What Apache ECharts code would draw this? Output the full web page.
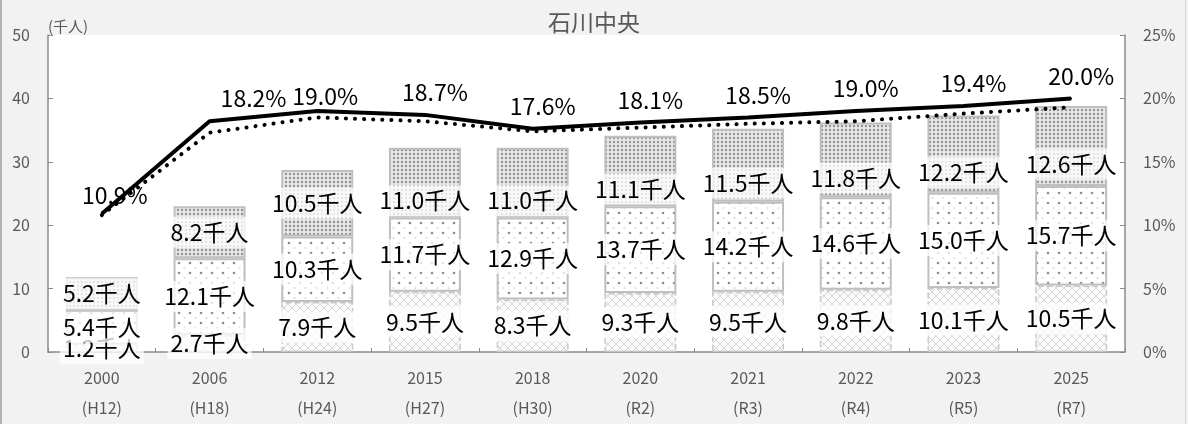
<!DOCTYPE html>
<html>
<head>
<meta charset="utf-8">
<script src="https://cdn.jsdelivr.net/npm/echarts@6/dist/echarts.min.js"></script>
<style>
html, body { margin: 0; padding: 0; background: #f2f2f2; }
#wrap { position: relative; width: 1188px; height: 424px; }
#mychart { width: 1188px; height: 424px; }
#wrap:before { content: ''; position: absolute; left: 0; top: 0; width: 2px; height: 424px; background: #b4b4b4; z-index: 2; }
#wrap:after { content: ''; position: absolute; right: 2px; top: 0; width: 1px; height: 424px; background: #d6d6d6; z-index: 2; }
</style>
</head>
<body>
<div id="wrap"><div id="mychart"></div></div>
<script>
// 年（西暦）と和暦
const years = ['2000', '2006', '2012', '2015', '2018', '2020', '2021', '2022', '2023', '2025'];
const eras = ['(H12)', '(H18)', '(H24)', '(H27)', '(H30)', '(R2)', '(R3)', '(R4)', '(R5)', '(R7)'];

// 積み上げ棒（千人）下段・中段・上段
const lowerVals = [1.2, 2.7, 7.9, 9.5, 8.3, 9.3, 9.5, 9.8, 10.1, 10.5];
const middleVals = [5.4, 12.1, 10.3, 11.7, 12.9, 13.7, 14.2, 14.6, 15.0, 15.7];
const upperVals = [5.2, 8.2, 10.5, 11.0, 11.0, 11.1, 11.5, 11.8, 12.2, 12.6];

// 折れ線（%）実線・点線
const rateSolid = [10.9, 18.2, 19.0, 18.7, 17.6, 18.1, 18.5, 19.0, 19.4, 20.0];
const rateDotted = [10.8, 17.3, 18.5, 18.2, 17.4, 17.7, 18.0, 18.2, 18.8, 19.3];

const leftTicks = [0, 50, 10];   // min, max, interval
const rightTicks = [0, 25, 5];

// 棒の模様（キャンバスパターン）
const makePattern = (w, h, draw) => {
    const c = document.createElement('canvas');
    c.width = w; c.height = h;
    draw(c.getContext('2d'));
    return { image: c, repeat: 'repeat' };
};
const dot = (ctx, x, y, r, color) => {
    ctx.fillStyle = color;
    ctx.beginPath(); ctx.arc(x, y, r, 0, Math.PI * 2); ctx.fill();
};
const crossPattern = makePattern(8, 8, ctx => {
    ctx.fillStyle = '#fafafa'; ctx.fillRect(0, 0, 8, 8);
    ctx.strokeStyle = '#d6d6d6'; ctx.lineWidth = 1;
    ctx.beginPath(); ctx.moveTo(0, 0); ctx.lineTo(8, 8); ctx.moveTo(8, 0); ctx.lineTo(0, 8); ctx.stroke();
});
const sparsePattern = makePattern(11, 10, ctx => {
    ctx.fillStyle = '#ffffff'; ctx.fillRect(0, 0, 11, 10);
    dot(ctx, 3, 3, 1.3, '#8f8f8f');
    dot(ctx, 8.5, 8, 1.1, '#dcdcdc');
});
const densePattern = makePattern(4, 4, ctx => {
    ctx.fillStyle = '#e8e8e8'; ctx.fillRect(0, 0, 4, 4);
    dot(ctx, 2, 2, 1.2, '#939393');
});

const barLabel = {
    show: true,
    position: 'inside',
    color: '#000',
    fontSize: 23,
    backgroundColor: 'rgba(255,255,255,0.75)',
    padding: [4, 3],
    formatter: p => p.value.toFixed(1) + '千人'
};

const myEcharts = echarts.init(document.getElementById('mychart'));

const option = {
    backgroundColor: '#f2f2f2',
    textStyle: { fontFamily: 'Noto Sans CJK JP' },
    animation: false,
    title: {
        text: '石川中央',
        left: 'center',
        top: 6,
        textStyle: { fontSize: 23, fontWeight: 'normal', color: '#595959' }
    },
    grid: {
        left: 48, right: 63, top: 35, bottom: 72,
        show: true, backgroundColor: '#ffffff', borderWidth: 0
    },
    xAxis: {
        type: 'category',
        data: years.map((y, i) => y + '\n' + eras[i]),
        axisLine: { lineStyle: { color: '#8c8c8c', width: 1.5 } },
        axisTick: { show: true, inside: true, length: 4, lineStyle: { color: '#8c8c8c' } },
        axisLabel: { color: '#595959', fontSize: 16, lineHeight: 30, margin: 11 }
    },
    yAxis: [
        {
            type: 'value',
            min: leftTicks[0], max: leftTicks[1], interval: leftTicks[2],
            name: '(千人)',
            nameLocation: 'end',
            nameGap: 1,
            nameTextStyle: { color: '#595959', fontSize: 15, align: 'left' },
            axisLine: { show: true, lineStyle: { color: '#8c8c8c', width: 1.5 } },
            axisTick: { show: true, inside: true, length: 5, lineStyle: { color: '#8c8c8c' } },
            splitLine: { show: false },
            axisLabel: { color: '#595959', fontSize: 16, margin: 18 }
        },
        {
            type: 'value',
            min: rightTicks[0], max: rightTicks[1], interval: rightTicks[2],
            axisLine: { show: true, lineStyle: { color: '#8c8c8c', width: 1.5 } },
            axisTick: { show: true, inside: true, length: 5, lineStyle: { color: '#8c8c8c' } },
            splitLine: { show: false },
            axisLabel: { color: '#595959', fontSize: 16, margin: 18, formatter: '{value}%' }
        }
    ],
    series: [
        {
            name: '下段',
            type: 'bar',
            stack: 'pop',
            barWidth: 72,
            itemStyle: { color: crossPattern, borderColor: '#c9c9c9', borderWidth: 1.5, borderType: 'dashed' },
            label: barLabel,
            data: lowerVals
        },
        {
            name: '中段',
            type: 'bar',
            stack: 'pop',
            itemStyle: { color: sparsePattern, borderColor: '#bfbfbf', borderWidth: 2 },
            label: barLabel,
            data: middleVals
        },
        {
            name: '上段',
            type: 'bar',
            stack: 'pop',
            itemStyle: { color: densePattern, borderColor: '#bfbfbf', borderWidth: 2 },
            label: barLabel,
            // 2015年以降はラベルが少し下がっている
            data: upperVals.map((v, i) => i >= 3 ? { value: v, label: { offset: [0, 18] } } : v)
        },
        {
            name: '割合(点線)',
            type: 'line',
            yAxisIndex: 1,
            symbol: 'none',
            z: 5,
            lineStyle: { color: '#000', width: 4, type: [0.1, 9], cap: 'round' },
            data: rateDotted
        },
        {
            name: '割合',
            type: 'line',
            yAxisIndex: 1,
            symbol: 'circle',
            symbolSize: 2,
            showSymbol: true,
            z: 6,
            itemStyle: { color: '#000' },
            lineStyle: { color: '#000', width: 4 },
            label: {
                show: true,
                position: 'top',
                distance: 10,
                offset: [10, 0],
                color: '#000',
                fontSize: 23,
                formatter: p => p.value.toFixed(1) + '%'
            },
            data: rateSolid.map((v, i) => {
                if (i === 0) return { value: v, label: { offset: [13, 4] } };
                if (i === 1) return { value: v, label: { offset: [44, 0] } };
                if (i === 2) return { value: v, label: { offset: [8, 8] } };
                return v;
            })
        }
    ]
};

myEcharts.setOption(option);
</script>
</body>
</html>
